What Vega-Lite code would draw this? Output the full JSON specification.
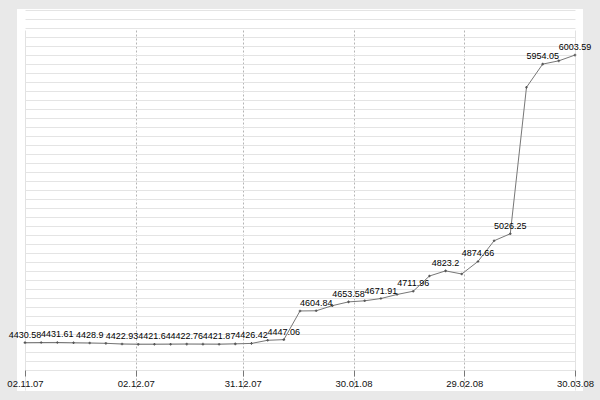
{
  "$schema": "https://vega.github.io/schema/vega-lite/v6.json",
  "width": 566,
  "height": 382,
  "autosize": "none",
  "padding": {"left": 17, "top": 9, "right": 17, "bottom": 9},
  "background": "#e9e9e9",
  "config": {"view": {"stroke": null, "fill": "#ffffff"}, "font": "Liberation Sans"},
  "data": {
    "values": [
      {"date": "2007-11-02T00:00", "value": 4430.58, "label": "4430.58"},
      {"date": "2007-11-06T09:11", "value": 4431.2},
      {"date": "2007-11-10T18:21", "value": 4431.61, "label": "4431.61"},
      {"date": "2007-11-15T03:32", "value": 4430.1},
      {"date": "2007-11-19T12:42", "value": 4428.9, "label": "4428.9"},
      {"date": "2007-11-23T21:53", "value": 4427.0},
      {"date": "2007-11-28T07:04", "value": 4422.93, "label": "4422.93"},
      {"date": "2007-12-02T16:14", "value": 4421.5},
      {"date": "2007-12-07T01:25", "value": 4421.64, "label": "4421.64"},
      {"date": "2007-12-11T10:35", "value": 4422.1},
      {"date": "2007-12-15T19:46", "value": 4422.76, "label": "4422.76"},
      {"date": "2007-12-20T04:56", "value": 4422.3},
      {"date": "2007-12-24T14:07", "value": 4421.87, "label": "4421.87"},
      {"date": "2007-12-28T23:17", "value": 4423.9},
      {"date": "2008-01-02T08:28", "value": 4426.42, "label": "4426.42"},
      {"date": "2008-01-06T17:38", "value": 4443.5},
      {"date": "2008-01-11T02:49", "value": 4447.06, "label": "4447.06"},
      {"date": "2008-01-15T12:00", "value": 4603.9},
      {"date": "2008-01-19T21:10", "value": 4604.84, "label": "4604.84"},
      {"date": "2008-01-24T06:21", "value": 4633.0},
      {"date": "2008-01-28T15:32", "value": 4653.58, "label": "4653.58"},
      {"date": "2008-02-02T00:42", "value": 4659.5},
      {"date": "2008-02-06T09:53", "value": 4671.91, "label": "4671.91"},
      {"date": "2008-02-10T19:03", "value": 4694.0},
      {"date": "2008-02-15T04:14", "value": 4711.96, "label": "4711.96"},
      {"date": "2008-02-19T13:25", "value": 4795.0},
      {"date": "2008-02-23T22:35", "value": 4823.2, "label": "4823.2"},
      {"date": "2008-02-28T07:46", "value": 4806.0},
      {"date": "2008-03-03T16:56", "value": 4874.66, "label": "4874.66"},
      {"date": "2008-03-08T02:07", "value": 4988.0},
      {"date": "2008-03-12T11:17", "value": 5026.25, "label": "5026.25"},
      {"date": "2008-03-16T20:28", "value": 5827.0},
      {"date": "2008-03-21T05:38", "value": 5954.05, "label": "5954.05"},
      {"date": "2008-03-25T14:49", "value": 5972.0},
      {"date": "2008-03-30T00:00", "value": 6003.59, "label": "6003.59"}
    ]
  },
  "encoding": {
    "x": {
      "field": "date", "type": "temporal", "title": null,
      "scale": {"domain": [{"year": 2007, "month": 11, "date": 2}, {"year": 2008, "month": 3, "date": 30}], "range": [8, 558]},
      "axis": {
        "values": [
          {"year": 2007, "month": 11, "date": 2},
          {"year": 2007, "month": 12, "date": 2},
          {"year": 2007, "month": 12, "date": 31},
          {"year": 2008, "month": 1, "date": 30},
          {"year": 2008, "month": 2, "date": 29},
          {"year": 2008, "month": 3, "date": 30}
        ],
        "offset": -21,
        "format": "%d.%m.%y",
        "domain": false,
        "grid": true,
        "gridDash": {"condition": {"test": "datum.value > time(datetime(2007,10,5)) && datum.value < time(datetime(2008,2,25))", "value": [2, 2]}, "value": []},
        "gridColor": {"condition": {"test": "datum.value > time(datetime(2007,10,5)) && datum.value < time(datetime(2008,2,25))", "value": "#b4b4b4"}, "value": "#e2e2e2"},
        "tickSize": 6,
        "tickColor": "#777777",
        "labelFontSize": 9.5,
        "labelFont": "Liberation Sans",
        "labelColor": "#111111",
        "labelPadding": 2,
        "labelFlush": false,
        "labelOverlap": false
      }
    },
    "y": {
      "field": "value", "type": "quantitative", "title": null,
      "scale": {"domain": [4281, 6250], "zero": false, "nice": false, "range": [361, 1]},
      "axis": {
        "values": [4281, 4330.225, 4379.45, 4428.675, 4477.9, 4527.125, 4576.35, 4625.575, 4674.8, 4724.025, 4773.25, 4822.475, 4871.7, 4920.925, 4970.15, 5019.375, 5068.6, 5117.825, 5167.05, 5216.275, 5265.5, 5314.725, 5363.95, 5413.175, 5462.4, 5511.625, 5560.85, 5610.075, 5659.3, 5708.525, 5757.75, 5806.975, 5856.2, 5905.425, 5954.65, 6003.875, 6053.1, 6102.325, 6151.55, 6200.775, 6250],
        "domain": false, "ticks": false, "labels": false,
        "grid": true, "gridColor": "#e4e4e4", "gridWidth": 1
      }
    }
  },
  "layer": [
    {
      "mark": {"type": "line", "color": "#777777", "strokeWidth": 1}
    },
    {
      "mark": {"type": "point", "shape": "cross", "size": 7, "filled": true, "color": "#555555", "opacity": 1}
    },
    {
      "transform": [{"filter": "isValid(datum.label)"}],
      "mark": {"type": "text", "fontSize": 9, "font": "Liberation Sans", "color": "#000000", "align": "center", "baseline": "alphabetic", "dy": -5},
      "encoding": {
        "text": {"field": "label", "type": "nominal"}
      }
    }
  ]
}
